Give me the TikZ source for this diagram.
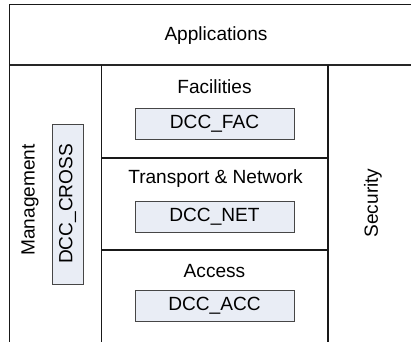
\documentclass[tikz,border=0pt]{standalone}
\usepackage{fontspec}
\setmainfont{Liberation Sans}
\definecolor{boxfill}{RGB}{233,237,245}
\definecolor{boxline}{RGB}{70,70,70}
\begin{document}
\begin{tikzpicture}[x=1pt,y=-1pt,
  frame/.style={line width=1.3pt,draw=black!90},
  label/.style={font=\fontsize{19.1}{21}\selectfont,inner sep=0pt},
  dccbox/.style={draw=boxline,fill=boxfill,line width=1pt,minimum width=159pt,minimum height=31pt,inner sep=0pt,font=\fontsize{19.1}{21}\selectfont}]
  \useasboundingbox (0,0) rectangle (411,342);
  % outer frame and column separators
  \draw[frame] (411,4.5) -- (9.5,4.5) -- (9.5,342);
  \draw[line width=2pt,draw=black!85] (9.5,65) -- (411,65);
  \draw[frame] (101.5,65) -- (101.5,342);
  \draw[frame] (328,65) -- (328,342);
  \draw[frame] (101.5,158) -- (328,158);
  \draw[frame] (101.5,250) -- (328,250);
  % layer titles
  \node[label] (app) at (216,36) {Applications};
  \node[label] (fac) at (214.5,87) {Facilities};
  \node[label] (tn)  at (215.5,179) {Transport \& Network};
  \node[label] (acc) at (214.5,271) {Access};
  \node[label,rotate=90] (mgmt) at (30,200) {Management};
  \node[label,rotate=90] (sec) at (373,203) {Security};
  % DCC entities
  \node[dccbox] (dccfac) at (214.5,123.5) {DCC\_FAC};
  \node[dccbox] (dccnet) at (214.5,216.5) {DCC\_NET};
  \node[dccbox] (dccacc) at (214.5,305.5) {DCC\_ACC};
  \node[dccbox,rotate=90,minimum width=160pt] (dcccross) at (67.5,204) {DCC\_CROSS};
\end{tikzpicture}
\end{document}
